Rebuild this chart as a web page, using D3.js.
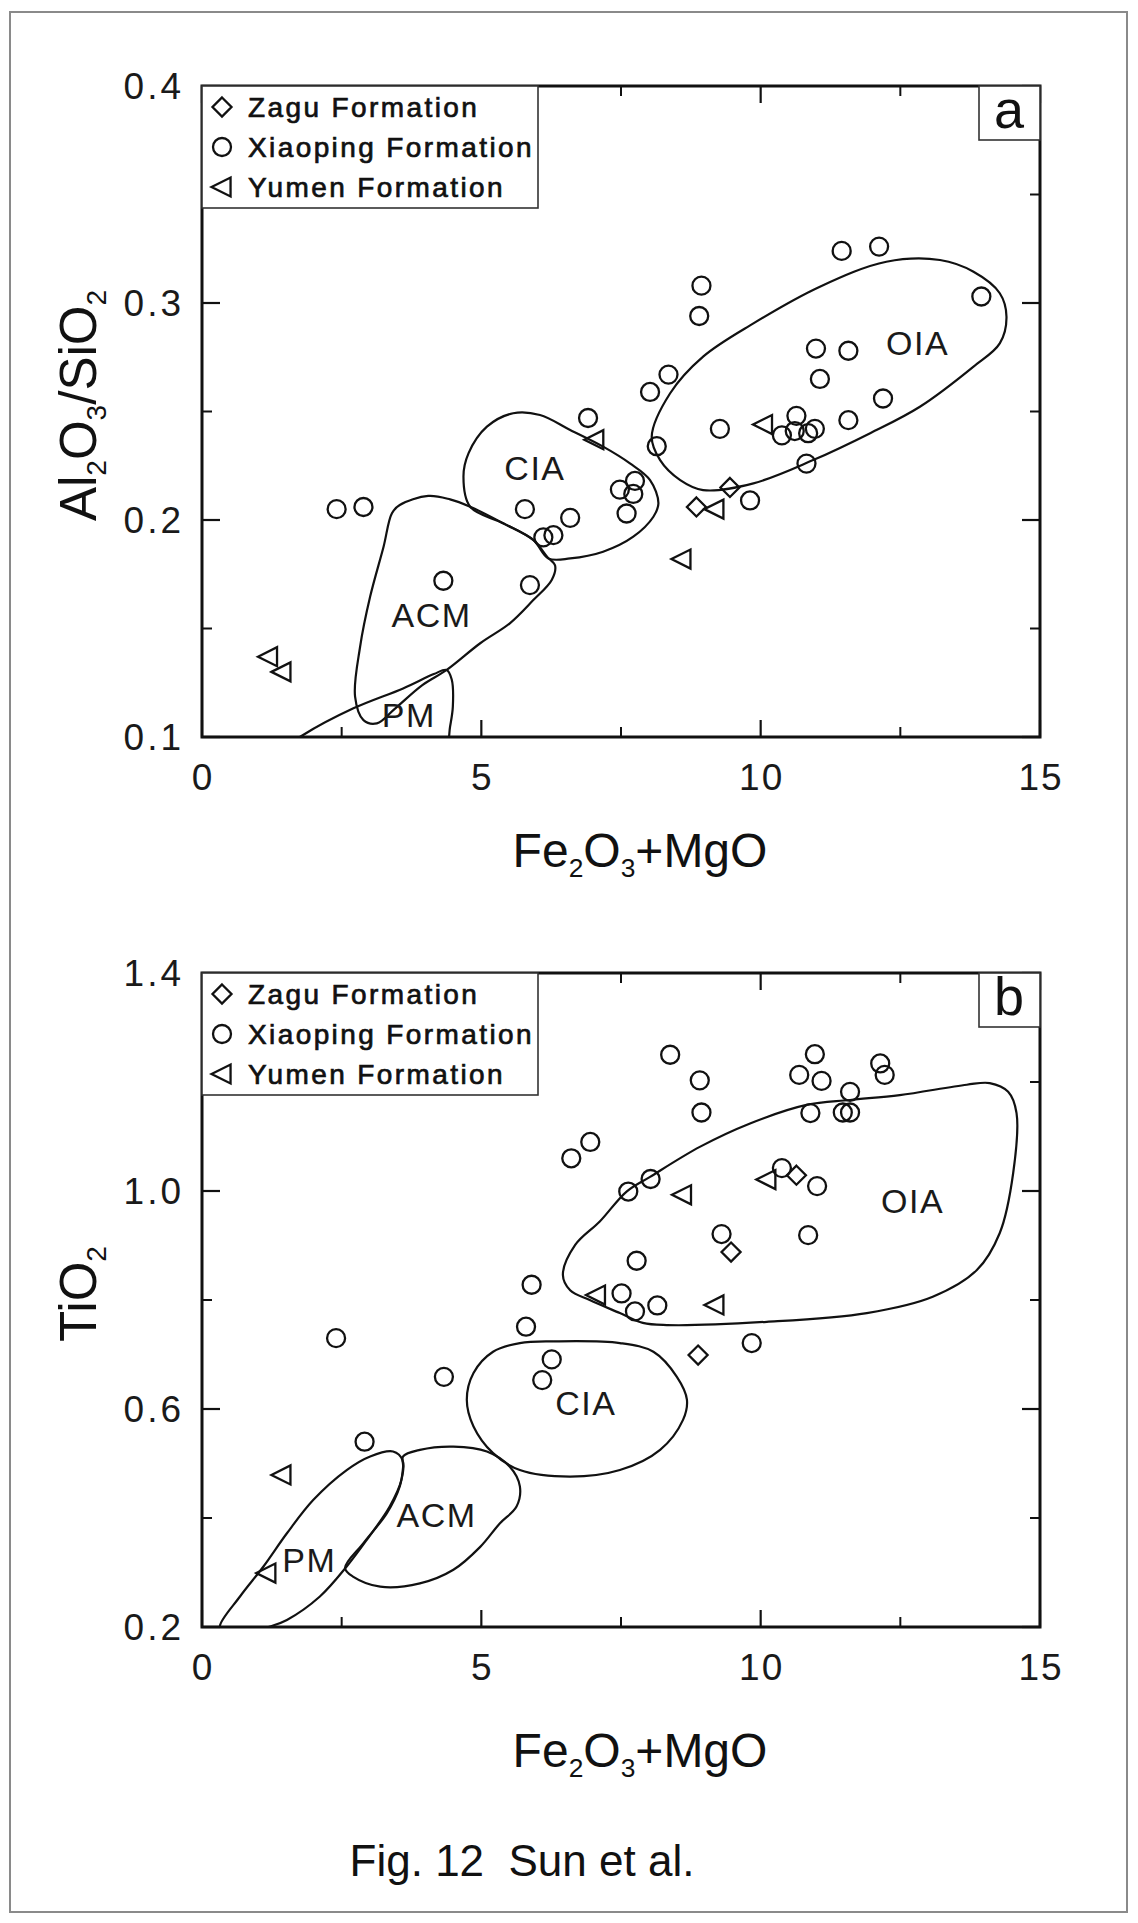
<!DOCTYPE html>
<html>
<head>
<meta charset="utf-8">
<script src="https://cdn.jsdelivr.net/npm/d3@7"></script>
<style>
  html, body { margin: 0; padding: 0; background: #fff; }
  svg { display: block; font-family: "Liberation Sans", Arial, sans-serif; }
  .pre { white-space: pre; }
</style>
</head>
<body>
<svg id="fig" width="1138" height="1923"></svg>
<script>
// ---- axis ticks ----
const xMajor = [0, 5, 10, 15];
const xMinor = [2.5, 7.5, 12.5];
const xTickLabels = ["0", "5", "10", "15"];

const yMajorA = [0.1, 0.2, 0.3, 0.4];
const yMinorA = [0.15, 0.25, 0.35];
const yTickLabelsA = ["0.1", "0.2", "0.3", "0.4"];

const yMajorB = [0.2, 0.6, 1.0, 1.4];
const yMinorB = [0.4, 0.8, 1.2];
const yTickLabelsB = ["0.2", "0.6", "1.0", "1.4"];

const legendNames = ["Zagu Formation", "Xiaoping Formation", "Yumen Formation"];

// ---- samples, panel a: [Fe2O3+MgO, Al2O3/SiO2] ----
const zaguA = [[8.85, 0.206], [9.45, 0.215]];
const xiaopingA = [
  [2.41, 0.205], [2.89, 0.206], [5.78, 0.205], [6.59, 0.201], [6.11, 0.192],
  [6.29, 0.193], [4.32, 0.172], [5.87, 0.170], [6.91, 0.247], [7.48, 0.214],
  [7.75, 0.218], [7.72, 0.212], [7.60, 0.203], [8.02, 0.259], [8.14, 0.234],
  [11.45, 0.324], [12.12, 0.326], [13.95, 0.303], [8.94, 0.308], [8.90, 0.294],
  [10.99, 0.279], [11.57, 0.278], [11.06, 0.265], [8.35, 0.267], [12.19, 0.256],
  [9.27, 0.242], [11.57, 0.246], [10.64, 0.248], [10.38, 0.239], [10.61, 0.241],
  [10.85, 0.240], [10.97, 0.242], [10.82, 0.226], [9.81, 0.209]
];
const yumenA = [[7.03, 0.237], [1.19, 0.137], [1.43, 0.130], [8.59, 0.182], [10.05, 0.244], [9.18, 0.205]];

// ---- samples, panel b: [Fe2O3+MgO, TiO2] ----
const zaguB = [[10.64, 1.029], [9.47, 0.888], [8.88, 0.699]];
const xiaopingB = [
  [8.38, 1.250], [8.91, 1.203], [8.94, 1.144], [10.97, 1.251], [10.69, 1.213],
  [11.09, 1.202], [12.14, 1.234], [12.22, 1.213], [11.60, 1.182], [10.89, 1.143],
  [11.47, 1.144], [11.60, 1.144], [7.63, 0.999], [8.03, 1.022], [10.38, 1.042],
  [11.01, 1.009], [9.30, 0.921], [10.85, 0.919], [7.78, 0.872], [7.51, 0.812],
  [7.75, 0.779], [8.15, 0.790], [9.84, 0.721], [5.90, 0.828], [5.80, 0.751],
  [2.40, 0.730], [4.33, 0.659], [6.26, 0.691], [6.09, 0.653], [2.91, 0.540],
  [6.95, 1.090], [6.61, 1.060]
];
const yumenB = [[10.11, 1.021], [8.60, 0.993], [9.18, 0.791], [7.06, 0.809], [1.43, 0.479], [1.16, 0.299]];

// ---- tectonic setting fields, panel a ----
const oiaA = [
  [8.05, 0.2384], [8.38, 0.2584], [8.97, 0.2753], [9.87, 0.2906], [11.06, 0.3075],
  [12.25, 0.3190], [13.21, 0.3198], [13.81, 0.3144], [14.28, 0.3045], [14.40, 0.2937],
  [14.28, 0.2814], [13.81, 0.2707], [12.85, 0.2522], [11.96, 0.2400], [10.94, 0.2276],
  [9.87, 0.2169], [8.97, 0.2138], [8.56, 0.2184], [8.20, 0.2276]
];
const ciaA = [
  [5.57, 0.2492], [5.10, 0.2430], [4.77, 0.2307], [4.68, 0.2200], [4.80, 0.2061],
  [5.39, 0.1985], [5.93, 0.1908], [6.20, 0.1823], [6.59, 0.1823], [7.18, 0.1854],
  [7.72, 0.1923], [8.08, 0.2015], [8.17, 0.2077], [8.02, 0.2184], [7.66, 0.2261],
  [7.18, 0.2338], [6.59, 0.2415], [6.05, 0.2484]
];
const acmA = [
  [4.05, 0.2111], [3.54, 0.2069], [3.40, 0.2031], [3.25, 0.1877], [3.01, 0.1647],
  [2.83, 0.1416], [2.74, 0.1186], [2.89, 0.1078], [3.13, 0.1063], [3.45, 0.1130],
  [3.95, 0.1240], [4.38, 0.1309], [4.98, 0.1432], [5.51, 0.1524], [5.93, 0.1631],
  [6.26, 0.1724], [6.32, 0.1790], [6.18, 0.1830], [5.93, 0.1908], [5.39, 0.1985],
  [4.80, 0.2061], [4.44, 0.2095]
];
const pmA = [
  [1.81, 0.1009], [2.71, 0.1132], [3.60, 0.1224], [4.15, 0.1290], [4.38, 0.1309],
  [4.47, 0.1265], [4.49, 0.1140], [4.44, 0.1047], [4.36, 0.0940], [3.90, 0.0850],
  [2.90, 0.0820], [2.00, 0.0880], [1.50, 0.0950]
];

// ---- tectonic setting fields, panel b ----
const oiaB = [
  [6.46, 0.846], [6.68, 0.901], [7.12, 0.944], [7.60, 0.999], [8.02, 1.026],
  [8.91, 1.081], [9.81, 1.124], [10.82, 1.158], [11.60, 1.167], [12.49, 1.176],
  [13.69, 1.195], [14.10, 1.198], [14.43, 1.182], [14.58, 1.143], [14.52, 1.033],
  [14.28, 0.923], [13.87, 0.855], [13.08, 0.806], [11.90, 0.776], [10.11, 0.760],
  [8.32, 0.754], [7.89, 0.758], [7.48, 0.776], [6.94, 0.800], [6.59, 0.818]
];
const ciaB = [
  [5.69, 0.721], [6.29, 0.724], [7.48, 0.721], [8.08, 0.705], [8.50, 0.659],
  [8.68, 0.617], [8.61, 0.580], [8.20, 0.525], [7.48, 0.488], [6.59, 0.476],
  [5.69, 0.488], [5.21, 0.519], [4.86, 0.568], [4.74, 0.617], [4.86, 0.666],
  [5.21, 0.705]
];
const acmB = [
  [3.60, 0.513], [3.90, 0.525], [4.50, 0.531], [5.10, 0.522], [5.51, 0.494],
  [5.69, 0.458], [5.63, 0.421], [5.33, 0.390], [4.98, 0.347], [4.50, 0.305],
  [3.90, 0.280], [3.19, 0.274], [2.71, 0.292], [2.56, 0.308], [2.89, 0.354],
  [3.31, 0.409], [3.54, 0.458], [3.60, 0.494]
];
const pmB = [
  [0.32, 0.201], [0.68, 0.256], [1.10, 0.311], [1.52, 0.372], [1.99, 0.433],
  [2.59, 0.488], [3.01, 0.513], [3.42, 0.522], [3.59, 0.506], [3.57, 0.470],
  [3.36, 0.421], [2.95, 0.360], [2.59, 0.311], [2.11, 0.256], [1.52, 0.213],
  [1.22, 0.201], [0.80, 0.190], [0.40, 0.190]
];

// field names: [text, x, y of baseline]
const labelsA = [["OIA", 12.81, 0.276], ["CIA", 5.96, 0.2184], ["ACM", 4.11, 0.1508], ["PM", 3.70, 0.1046]];
const labelsB = [["OIA", 12.72, 0.960], ["CIA", 6.87, 0.589], ["ACM", 4.20, 0.384], ["PM", 1.92, 0.3015]];

// ---------------------------------------------------------------
const svg = d3.select("#fig");
const INK = "#111";

// page frame
svg.append("rect").attr("x", 10).attr("y", 12).attr("width", 1117).attr("height", 1900)
  .attr("fill", "none").attr("stroke", "#8a8a8a").attr("stroke-width", 2);

// marker shapes
const symbolPath = {
  diamond: s => `M0,${-s}L${s},0L0,${s}L${-s},0Z`,
  triangle: s => `M${-s * 1.1},0L${s * 0.9},${-s}L${s * 0.9},${s}Z`
};

function drawMarker(g, type, x, y) {
  if (type === "circle") {
    g.append("circle").attr("cx", x).attr("cy", y).attr("r", 9)
      .attr("fill", "none").attr("stroke", INK).attr("stroke-width", 2.3);
  } else {
    g.append("path").attr("d", symbolPath[type](9.5))
      .attr("transform", `translate(${x},${y})`)
      .attr("fill", "none").attr("stroke", INK).attr("stroke-width", 2.3)
      .attr("stroke-linejoin", "miter");
  }
}

function subText(sel, parts, size) {
  // parts: [text, isSub]
  let down = false;
  parts.forEach(([t, sub]) => {
    const ts = sel.append("tspan").text(t);
    if (sub) {
      ts.attr("font-size", size * 0.55).attr("dy", down ? 0 : size * 0.2);
      down = true;
    } else {
      ts.attr("dy", down ? -size * 0.2 : 0);
      down = false;
    }
  });
}

function panel(cfg) {
  const { top, bottom, yDomain, yMajor, yMinor, yLabels, series, fields, labels, letter, yTitle, id, xTitleGap } = cfg;
  const left = 202, right = 1040;
  const x = d3.scaleLinear().domain([0, 15]).range([left, right]);
  const y = d3.scaleLinear().domain(yDomain).range([bottom, top]);
  const g = svg.append("g");

  g.append("clipPath").attr("id", "clip" + id)
    .append("rect").attr("x", left).attr("y", top).attr("width", right - left).attr("height", bottom - top);

  // fields
  const line = d3.line().x(d => x(d[0])).y(d => y(d[1])).curve(d3.curveCatmullRomClosed.alpha(0.5));
  const fg = g.append("g").attr("clip-path", `url(#clip${id})`);
  fields.forEach(f => {
    fg.append("path").attr("d", line(f)).attr("fill", "none")
      .attr("stroke", INK).attr("stroke-width", 2.2);
  });

  // field names
  labels.forEach(([t, lx, ly]) => {
    g.append("text").attr("x", x(lx)).attr("y", y(ly)).attr("text-anchor", "middle")
      .attr("font-size", 34).attr("letter-spacing", 1.5).attr("fill", "#1a1a1a").text(t);
  });

  // samples
  const mg = g.append("g");
  series.forEach(s => s.data.forEach(d => drawMarker(mg, s.type, x(d[0]), y(d[1]))));

  // axes: inward ticks on all four sides
  const ax = g.append("g").attr("stroke", INK);
  const tick = (x1, y1, x2, y2, w) => ax.append("line")
    .attr("x1", x1).attr("y1", y1).attr("x2", x2).attr("y2", y2).attr("stroke-width", w);
  xMajor.forEach(v => { tick(x(v), bottom, x(v), bottom - 17, 2.2); tick(x(v), top, x(v), top + 17, 2.2); });
  xMinor.forEach(v => { tick(x(v), bottom, x(v), bottom - 10, 2); tick(x(v), top, x(v), top + 10, 2); });
  yMajor.forEach(v => { tick(left, y(v), left + 18, y(v), 2.2); tick(right, y(v), right - 18, y(v), 2.2); });
  yMinor.forEach(v => { tick(left, y(v), left + 10, y(v), 2); tick(right, y(v), right - 10, y(v), 2); });

  g.append("rect").attr("x", left).attr("y", top).attr("width", right - left).attr("height", bottom - top)
    .attr("fill", "none").attr("stroke", INK).attr("stroke-width", 3);

  // tick labels
  xMajor.forEach((v, i) => {
    g.append("text").attr("x", x(v) + 1).attr("y", bottom + 53).attr("text-anchor", "middle")
      .attr("font-size", 37).attr("letter-spacing", 2).attr("fill", "#1a1a1a").text(xTickLabels[i]);
  });
  yMajor.forEach((v, i) => {
    g.append("text").attr("x", 184).attr("y", y(v) + 13).attr("text-anchor", "end")
      .attr("font-size", 37).attr("letter-spacing", 3).attr("fill", "#1a1a1a").text(yLabels[i]);
  });

  // axis titles
  const xt = g.append("text").attr("x", 640).attr("y", bottom + xTitleGap).attr("text-anchor", "middle")
    .attr("font-size", 48).attr("fill", "#111");
  subText(xt, [["Fe"], ["2", true], ["O"], ["3", true], ["+MgO"]], 48);

  const yt = g.append("text")
    .attr("transform", `translate(96,${(top + bottom) / 2 - 6}) rotate(-90)`)
    .attr("text-anchor", "middle").attr("font-size", 51).attr("fill", "#111");
  subText(yt, yTitle, 51);

  // legend
  const lg = g.append("g");
  lg.append("rect").attr("x", left).attr("y", top).attr("width", 336).attr("height", 122)
    .attr("fill", "#fff").attr("stroke", "#333").attr("stroke-width", 1.6);
  ["diamond", "circle", "triangle"].forEach((t, i) => {
    const cy = top + 21 + i * 40;
    drawMarker(lg, t, 222, cy);
    lg.append("text").attr("x", 248).attr("y", cy + 10).attr("font-size", 28)
      .attr("letter-spacing", 2.4).attr("fill", "#111").attr("stroke", "#111").attr("stroke-width", 0.7)
      .text(legendNames[i]);
  });

  // panel letter
  g.append("rect").attr("x", 979).attr("y", top).attr("width", right - 979).attr("height", 54)
    .attr("fill", "#fff").attr("stroke", "#333").attr("stroke-width", 1.6);
  g.append("text").attr("x", 1009).attr("y", top + 42).attr("text-anchor", "middle")
    .attr("font-size", 54).attr("fill", "#111").text(letter);
}

panel({
  id: "a", top: 86, bottom: 737, yDomain: [0.1, 0.4], xTitleGap: 130,
  yMajor: yMajorA, yMinor: yMinorA, yLabels: yTickLabelsA,
  series: [{ type: "diamond", data: zaguA }, { type: "circle", data: xiaopingA }, { type: "triangle", data: yumenA }],
  fields: [oiaA, ciaA, acmA, pmA], labels: labelsA, letter: "a",
  yTitle: [["Al"], ["2", true], ["O"], ["3", true], ["/SiO"], ["2", true]]
});

panel({
  id: "b", top: 973, bottom: 1627, yDomain: [0.2, 1.4], xTitleGap: 140,
  yMajor: yMajorB, yMinor: yMinorB, yLabels: yTickLabelsB,
  series: [{ type: "diamond", data: zaguB }, { type: "circle", data: xiaopingB }, { type: "triangle", data: yumenB }],
  fields: [oiaB, ciaB, acmB, pmB], labels: labelsB, letter: "b",
  yTitle: [["TiO"], ["2", true]]
});

// caption
svg.append("text").attr("class", "pre").attr("x", 522).attr("y", 1876).attr("text-anchor", "middle")
  .attr("font-size", 44).attr("fill", "#111").text("Fig. 12  Sun et al.");
</script>
</body>
</html>
